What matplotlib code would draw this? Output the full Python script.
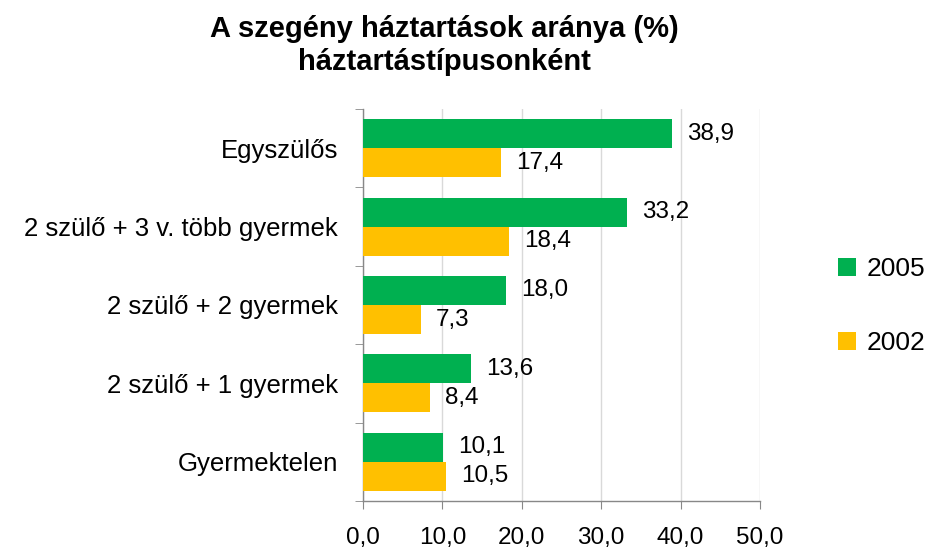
import matplotlib
matplotlib.use("Agg")
import matplotlib.pyplot as plt
import numpy as np

categories = ["Egyszülős", "2 szülő + 3 v. több gyermek", "2 szülő + 2 gyermek",
              "2 szülő + 1 gyermek", "Gyermektelen"]
values_2005 = [38.9, 33.2, 18.0, 13.6, 10.1]
values_2002 = [17.4, 18.4, 7.3, 8.4, 10.5]
series_labels = ["2005", "2002"]
xticks = [0, 10, 20, 30, 40, 50]

plt.rcParams['font.family'] = ['Liberation Sans', 'DejaVu Sans']

fig = plt.figure(figsize=(9.29, 5.49), dpi=100)
ax = fig.add_axes([0.3907, 0.0874, 0.8181 - 0.3907, 0.8015 - 0.0874])

n = len(categories)
y = np.arange(n)
h = 0.37
green = "#00B050"
yellow = "#FFC000"
b1 = ax.barh(y - h / 2, values_2005, height=h, color=green, label=series_labels[0], zorder=3)
b2 = ax.barh(y + h / 2, values_2002, height=h, color=yellow, label=series_labels[1], zorder=3)

def fmt(v):
    return f"{v:.1f}".replace(".", ",")

for bars, vals in ((b1, values_2005), (b2, values_2002)):
    for rect, v in zip(bars, vals):
        ax.annotate(fmt(v), xy=(v, rect.get_y() + rect.get_height() / 2),
                    xytext=(11, 0), textcoords="offset points",
                    ha="left", va="center", fontsize=17.5, color="black")

ax.set_ylim(n - 0.5, -0.5)
ax.set_xlim(0, 50)
ax.set_xticks(xticks)
ax.set_xticklabels([fmt(t) for t in xticks], fontsize=17.5)
ax.set_yticks(y)
ax.set_yticklabels(categories, fontsize=18.5)
ax.set_yticks(np.arange(n + 1) - 0.5, minor=True)
ax.tick_params(axis="y", which="major", length=0, pad=18)
ax.tick_params(axis="y", which="minor", length=6, color="#888888", direction="out")
ax.tick_params(axis="x", which="major", length=6, color="#888888", pad=13)

ax.grid(axis="x", color="#D9D9D9", linewidth=1, zorder=0)
for s in ("top", "right"):
    ax.spines[s].set_visible(False)
for s in ("left", "bottom"):
    ax.spines[s].set_color("#888888")
    ax.spines[s].set_linewidth(1)

fig.text(0.478, 0.917, "A szegény háztartások aránya (%)\nháztartástípusonként",
         ha="center", va="center", fontsize=21, fontweight="bold", linespacing=1.25)

leg = fig.legend(handles=[b1, b2], labels=series_labels, loc="center left",
                 bbox_to_anchor=(0.876, 0.442), frameon=False, fontsize=19,
                 handlelength=0.7, handleheight=0.7, labelspacing=1.9, handletextpad=0.4)

fig.savefig("out.png", dpi=100)
